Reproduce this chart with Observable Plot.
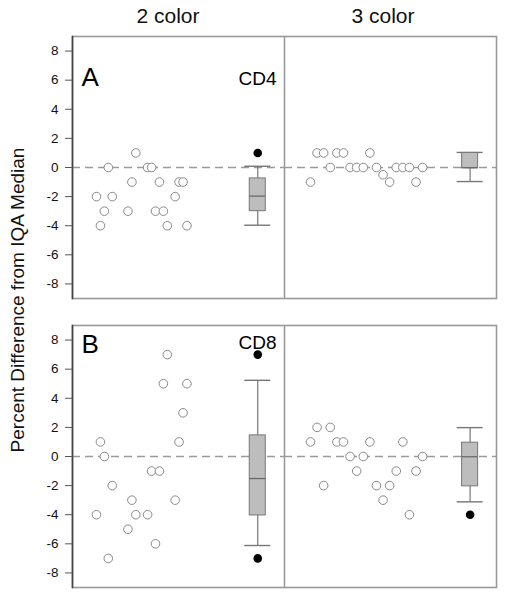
<!DOCTYPE html>
<html>
<head>
<meta charset="utf-8">
<script src="https://cdn.jsdelivr.net/npm/d3@7"></script>
<script src="https://cdn.jsdelivr.net/npm/@observablehq/plot@0.6"></script>
<style>
  html, body { margin: 0; padding: 0; background: #fff; }
  #wrap { position: relative; width: 508px; height: 601px; font-family: "Liberation Sans", Arial, sans-serif; color: #111; }
  #plots { display: flex; flex-direction: row; }
  .coltitle { position: absolute; top: 4px; font-size: 21px; transform: translateX(-50%); white-space: nowrap; }
  #ylab { position: absolute; left: 18px; top: 300px; font-size: 19px; white-space: nowrap; transform: translate(-50%, -50%) rotate(-90deg); }
</style>
</head>
<body>
<div id="wrap">
  <div class="coltitle" style="left:168px">2 color</div>
  <div class="coltitle" style="left:383px">3 color</div>
  <div id="ylab">Percent Difference from IQA Median</div>
  <div id="plots"></div>
</div>
<script>
// ---- data ----
const panels = ["A", "B"];
const markers = ["CD4", "CD8"];
const yTicks = [-8, -6, -4, -2, 0, 2, 4, 6, 8];

// 2-color labs: lab slot along x
const labs2 = [0, 1, 2, 3, 4, 8, 9, 10, 13, 14, 15, 16, 17, 18, 20, 21, 22, 23];
const cd4_2color = [-2, -4, -3, 0, -2, -3, -1, 1, 0, 0, -3, -1, -3, -4, -2, -1, -1, -4];
const cd8_2color = [-4, 1, 0, -7, -2, -5, -3, -4, -4, -1, -6, -1, 5, 7, -3, 1, 3, 5];

// 3-color labs
const labs3 = [0, 1, 2, 3, 4, 5, 6, 7, 8, 9, 10, 11, 12, 13, 14, 15, 16, 17];
const cd4_3color = [-1, 1, 1, 0, 1, 1, 0, 0, 0, 1, 0, -0.5, -1, 0, 0, 0, -1, 0];
const cd8_3color = [1, 2, -2, 2, 1, 1, 0, -1, 0, 1, -2, -3, -2, -1, 1, -4, -1, 0];

// box summaries [CD4, CD8]
const box2_slot = 41;
const box2_q1 = [-3, -4.05];
const box2_med = [-2, -1.55];
const box2_q3 = [-0.75, 1.45];
const box2_lo = [-4, -6.15];
const box2_hi = [0.05, 5.2];
const box2_out = [[1], [7, -7]];

const box3_slot = 24.2;
const box3_q1 = [-0.05, -2.05];
const box3_med = [-0.05, -0.05];
const box3_q3 = [1, 0.95];
const box3_lo = [-1, -3.15];
const box3_hi = [1, 1.95];
const box3_out = [[], [-4]];

// panel label placement (data units)
const letterY = [6.2, 7.7];
const markerY = [6.1, 7.8];

// ---- build ----
function pts(slots, series) {
  const out = [];
  series.forEach((vals, i) => vals.forEach((v, j) => out.push({panel: panels[i], x: slots[j], y: v})));
  return out;
}
function boxes(slot, q1, med, q3, lo, hi, outl) {
  return panels.map((p, i) => ({panel: p, x: slot, q1: q1[i], med: med[i], q3: q3[i], lo: lo[i], hi: hi[i], out: outl[i]}));
}
function outliers(b) {
  const o = [];
  b.forEach(d => d.out.forEach(v => o.push({panel: d.panel, x: d.x, y: v})));
  return o;
}

const FONT = "Liberation Sans, Arial, sans-serif";

function makePlot({left, width, marginLeft, marginRight, xDomain, points, box}) {
  const marks = [
    Plot.ruleY(panels.map(p => ({panel: p, y: 0})), {y: "y", fy: "panel", stroke: "#9a9a9a", strokeWidth: 1.3, strokeDasharray: "8,5"}),
    Plot.ruleX(box, {x: "x", y1: "lo", y2: "hi", fy: "panel", stroke: "#777", strokeWidth: 1.2}),
    Plot.rect(box, {x1: "x", x2: "x", y1: "lo", y2: "lo", fy: "panel", insetLeft: -13, insetRight: -13, insetTop: -0.7, insetBottom: -0.7, fill: "#777"}),
    Plot.rect(box, {x1: "x", x2: "x", y1: "hi", y2: "hi", fy: "panel", insetLeft: -13, insetRight: -13, insetTop: -0.7, insetBottom: -0.7, fill: "#777"}),
    Plot.rect(box, {x1: "x", x2: "x", y1: "q1", y2: "q3", fy: "panel", insetLeft: -8, insetRight: -8, fill: "#bdbdbd", stroke: "#777", strokeWidth: 1}),
    Plot.rect(box, {x1: "x", x2: "x", y1: "med", y2: "med", fy: "panel", insetLeft: -8, insetRight: -8, insetTop: -0.6, insetBottom: -0.6, fill: "#666"}),
    Plot.dot(outliers(box), {x: "x", y: "y", fy: "panel", r: 4.3, fill: "#000", stroke: "none"}),
    Plot.dot(points, {x: "x", y: "y", fy: "panel", r: 4.3, fill: "#fff", stroke: "#8a8a8a", strokeWidth: 1}),
    Plot.frame({stroke: "#999", strokeWidth: 1.6})
  ];
  if (left) {
    marks.push(
      Plot.frame({anchor: "left", stroke: "#444", strokeWidth: 1.6}),
      Plot.axisY({ticks: yTicks, tickSize: 7, tickPadding: 7, fontSize: 13.5, stroke: "#555", fill: "#111", label: null, tickFormat: d => String(d)}),
      Plot.text(panels.map((p, i) => ({panel: p, t: p, y: letterY[i]})), {x: () => xDomain[0], y: "y", fy: "panel", text: "t", textAnchor: "start", dx: 9, fontSize: 26, fill: "#000"}),
      Plot.text(panels.map((p, i) => ({panel: p, t: markers[i], y: markerY[i]})), {x: () => xDomain[1], y: "y", fy: "panel", text: "t", textAnchor: "end", dx: -8, fontSize: 19, fill: "#000"})
    );
  }
  return Plot.plot({
    width, height: 601,
    marginLeft, marginRight, marginTop: 35, marginBottom: 13,
    style: {fontFamily: FONT, fontSize: "13px", color: "#111", background: "transparent"},
    x: {domain: xDomain, axis: null},
    y: {domain: [-9, 9], axis: null},
    fy: {domain: panels, paddingInner: 0.093, paddingOuter: 0, axis: null, label: null},
    marks
  });
}

const p2 = makePlot({
  left: true, width: 284, marginLeft: 72, marginRight: 0, xDomain: [-6.1, 47.8],
  points: pts(labs2, [cd4_2color, cd8_2color]),
  box: boxes(box2_slot, box2_q1, box2_med, box2_q3, box2_lo, box2_hi, box2_out)
});
const p3 = makePlot({
  left: false, width: 224, marginLeft: 0, marginRight: 12, xDomain: [-3.94, 28.2],
  points: pts(labs3, [cd4_3color, cd8_3color]),
  box: boxes(box3_slot, box3_q1, box3_med, box3_q3, box3_lo, box3_hi, box3_out)
});
const holder = document.getElementById("plots");
holder.appendChild(p2);
holder.appendChild(p3);
</script>
</body>
</html>
